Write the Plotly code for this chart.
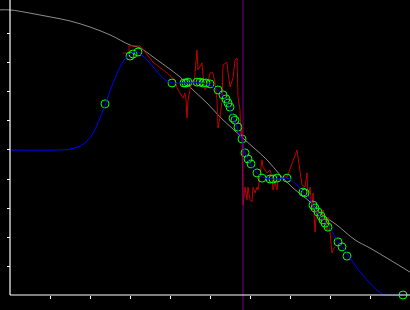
import plotly.graph_objects as go

# Gray reference curve
gray_x = [-2.5, 0, 5, 10, 15, 20, 25, 30, 32.5, 35.75, 39.25, 42.5, 45.75, 49.25, 52.5, 55.75,
          60.75, 64.25, 67.5, 70.75, 75, 77.5, 81.75, 86.25, 90, 95, 100]
gray_y = [98.3, 98.3, 97.2, 95.9, 94.5, 92.4, 89.7, 86.2, 85.2, 82.1, 78.6, 75.2, 70.7, 66.2, 61.4, 57.2,
          51.0, 46.6, 41.4, 36.9, 32.1, 28.3, 24.1, 19.0, 16.2, 12.1, 7.9]

# Blue fitted curve
blue_x = [0, 11.75, 15, 17.5, 19.25, 20.5, 21.75, 23, 24, 25, 26.25, 27.5, 28.75, 30, 31, 32, 33.25,
          34.5, 35.75, 37, 38.25, 39.25, 40.5, 42.5, 44.25, 47.5, 50, 52, 53.25, 54.5, 55.75, 56.75,
          58, 58.75, 60, 61.75, 63, 65, 67, 69.25, 71.25, 73.25, 75, 75.75, 77.5, 80, 82, 83.25, 85,
          86.75, 89.25, 91.75, 93.75, 98.25]
blue_y = [50.0, 50.0, 50.3, 51.4, 53.1, 55.2, 58.6, 62.8, 66.2, 70.3, 74.8, 78.6, 81.4, 83.1, 83.8, 83.8,
          82.4, 80.7, 78.6, 76.6, 74.8, 73.8, 73.1, 73.1, 73.1, 73.1, 72.4, 70.7, 68.6, 65.9, 61.4, 57.9,
          53.4, 49.3, 45.5, 42.1, 40.7, 40.0, 40.0, 40.3, 38.6, 35.5, 33.1, 31.0, 27.2, 23.1, 18.3, 16.2,
          12.8, 9.3, 5.2, 1.7, 0.0, 0.0]

# Green sample points
pts_x = [23.75, 30, 30.75, 32, 40.5, 43.5, 44, 44.5, 46.75, 47.5, 48.25, 49, 50, 52, 53.25, 54, 54.5,
         55, 55.75, 56.25, 57, 58, 58.75, 59.5, 60.25, 61.75, 63, 65, 65.75, 66.75, 69.25, 73.25,
         73.75, 75.75, 76.25, 77, 77.75, 78.25, 78.75, 79.5, 82, 83, 84.25, 98.25]
pts_y = [65.9, 82.4, 83.1, 83.8, 73.1, 73.1, 73.1, 73.4, 73.4, 73.4, 73.1, 73.1, 72.8, 70.7, 69.0, 67.6,
         66.2, 64.8, 61.0, 60.3, 57.9, 53.8, 49.0, 46.9, 45.2, 42.1, 40.3, 40.0, 40.0, 40.3, 40.3, 35.5,
         35.2, 31.0, 30.0, 28.6, 27.2, 25.9, 24.8, 23.4, 18.3, 16.6, 13.4, 0.0]

# Red raw signal
red_x = [28.25, 29.75, 29.75, 32.5, 33.75, 35.75, 39.25, 41.25, 41.75, 42.5, 43, 43.25, 43.75, 44, 44.25,
         44.5, 45, 45.5, 46, 46.5, 46.75, 47, 47.5, 48, 48.25, 48.75, 49.25, 50, 50.75, 51.25, 51.75,
         52, 52.5, 53, 53.25, 54.25, 54.5, 55, 55.75, 56.25, 56.75, 57, 57.5, 57.75, 58, 58.25, 58.75,
         59.25, 59.5, 60, 60.5, 60.75, 61.25, 61.75, 62, 63, 63.25, 64.25, 65, 65.5, 65.75, 66.25,
         66.75, 67, 68, 69.25, 71.75, 73, 73.75, 74.25, 74.5, 75, 75.5, 75.75, 76.25, 76.75, 77.5, 78,
         78.25, 78.75, 79.25, 79.5, 80, 80.5, 80.75, 81.25]
red_y = [83.4, 83.4, 85.9, 85.9, 83.8, 80.3, 76.6, 74.1, 71.4, 69.7, 68.3, 67.9, 69.7, 67.2, 61.0,
         67.2, 70.7, 74.1, 72.4, 81.0, 84.5, 77.6, 78.6, 80.0, 75.9, 70.7, 71.7, 76.6, 76.6, 73.1, 67.2,
         57.6, 61.4, 66.6, 79.3, 80.3, 76.6, 71.7, 74.8, 81.0, 81.7, 68.3, 63.8, 54.5, 56.9, 31.0, 37.2,
         32.8, 37.2, 32.8, 32.1, 37.2, 35.2, 37.2, 36.2, 46.6, 44.1, 42.1, 43.1, 40.7, 36.2, 39.0,
         36.2, 39.7, 40.7, 40.7, 50.0, 37.9, 37.2, 42.1, 33.8, 37.2, 29.3, 35.2, 21.7, 30.3, 28.3, 25.9,
         29.3, 26.9, 22.4, 26.9, 21.4, 14.5, 15.5, 16.6]

marker_x = 58.25
x_ticks = [10, 20, 30, 40, 50, 60, 70, 80, 90]
y_ticks = [10, 20, 30, 40, 50, 60, 70, 80, 90]
x_range = [-2.5, 100]
y_range = [-5.172, 101.72]

fig = go.Figure()
fig.add_trace(go.Scatter(x=gray_x, y=gray_y, mode="lines", line=dict(color="#8c8c8c", width=1, shape="spline")))
fig.add_trace(go.Scatter(x=red_x, y=red_y, mode="lines", line=dict(color="#c00000", width=1)))
fig.add_trace(go.Scatter(x=pts_x, y=pts_y, mode="markers",
                         marker=dict(symbol="circle-open", size=8, color="#00ff00", line=dict(width=1, color="#00ff00"))))
fig.add_trace(go.Scatter(x=blue_x, y=blue_y, mode="lines", line=dict(color="#0000ff", width=1, shape="spline")))

fig.add_shape(type="line", xref="x", yref="paper", x0=marker_x, x1=marker_x, y0=0, y1=1,
              line=dict(color="#800080", width=1))
fig.add_shape(type="line", xref="x", yref="y", x0=0, x1=x_range[1], y0=0, y1=0,
              line=dict(color="white", width=1.2))
fig.add_shape(type="line", xref="x", yref="y", x0=0, x1=0, y0=0, y1=y_range[1],
              line=dict(color="white", width=1.2))

fig.update_layout(
    width=410, height=310, margin=dict(l=0, r=0, t=0, b=0),
    paper_bgcolor="black", plot_bgcolor="black", showlegend=False,
    xaxis=dict(range=x_range, showgrid=False, zeroline=False, showline=False,
               tickmode="array", tickvals=x_ticks, ticks="outside", ticklen=3, tickwidth=1,
               tickcolor="white", showticklabels=False, anchor="free", position=15/310),
    yaxis=dict(range=y_range, showgrid=False, zeroline=False, showline=False,
               tickmode="array", tickvals=y_ticks, ticks="outside", ticklen=3, tickwidth=1,
               tickcolor="white", showticklabels=False, anchor="free", position=10/410),
)
fig.write_html("out.html")
